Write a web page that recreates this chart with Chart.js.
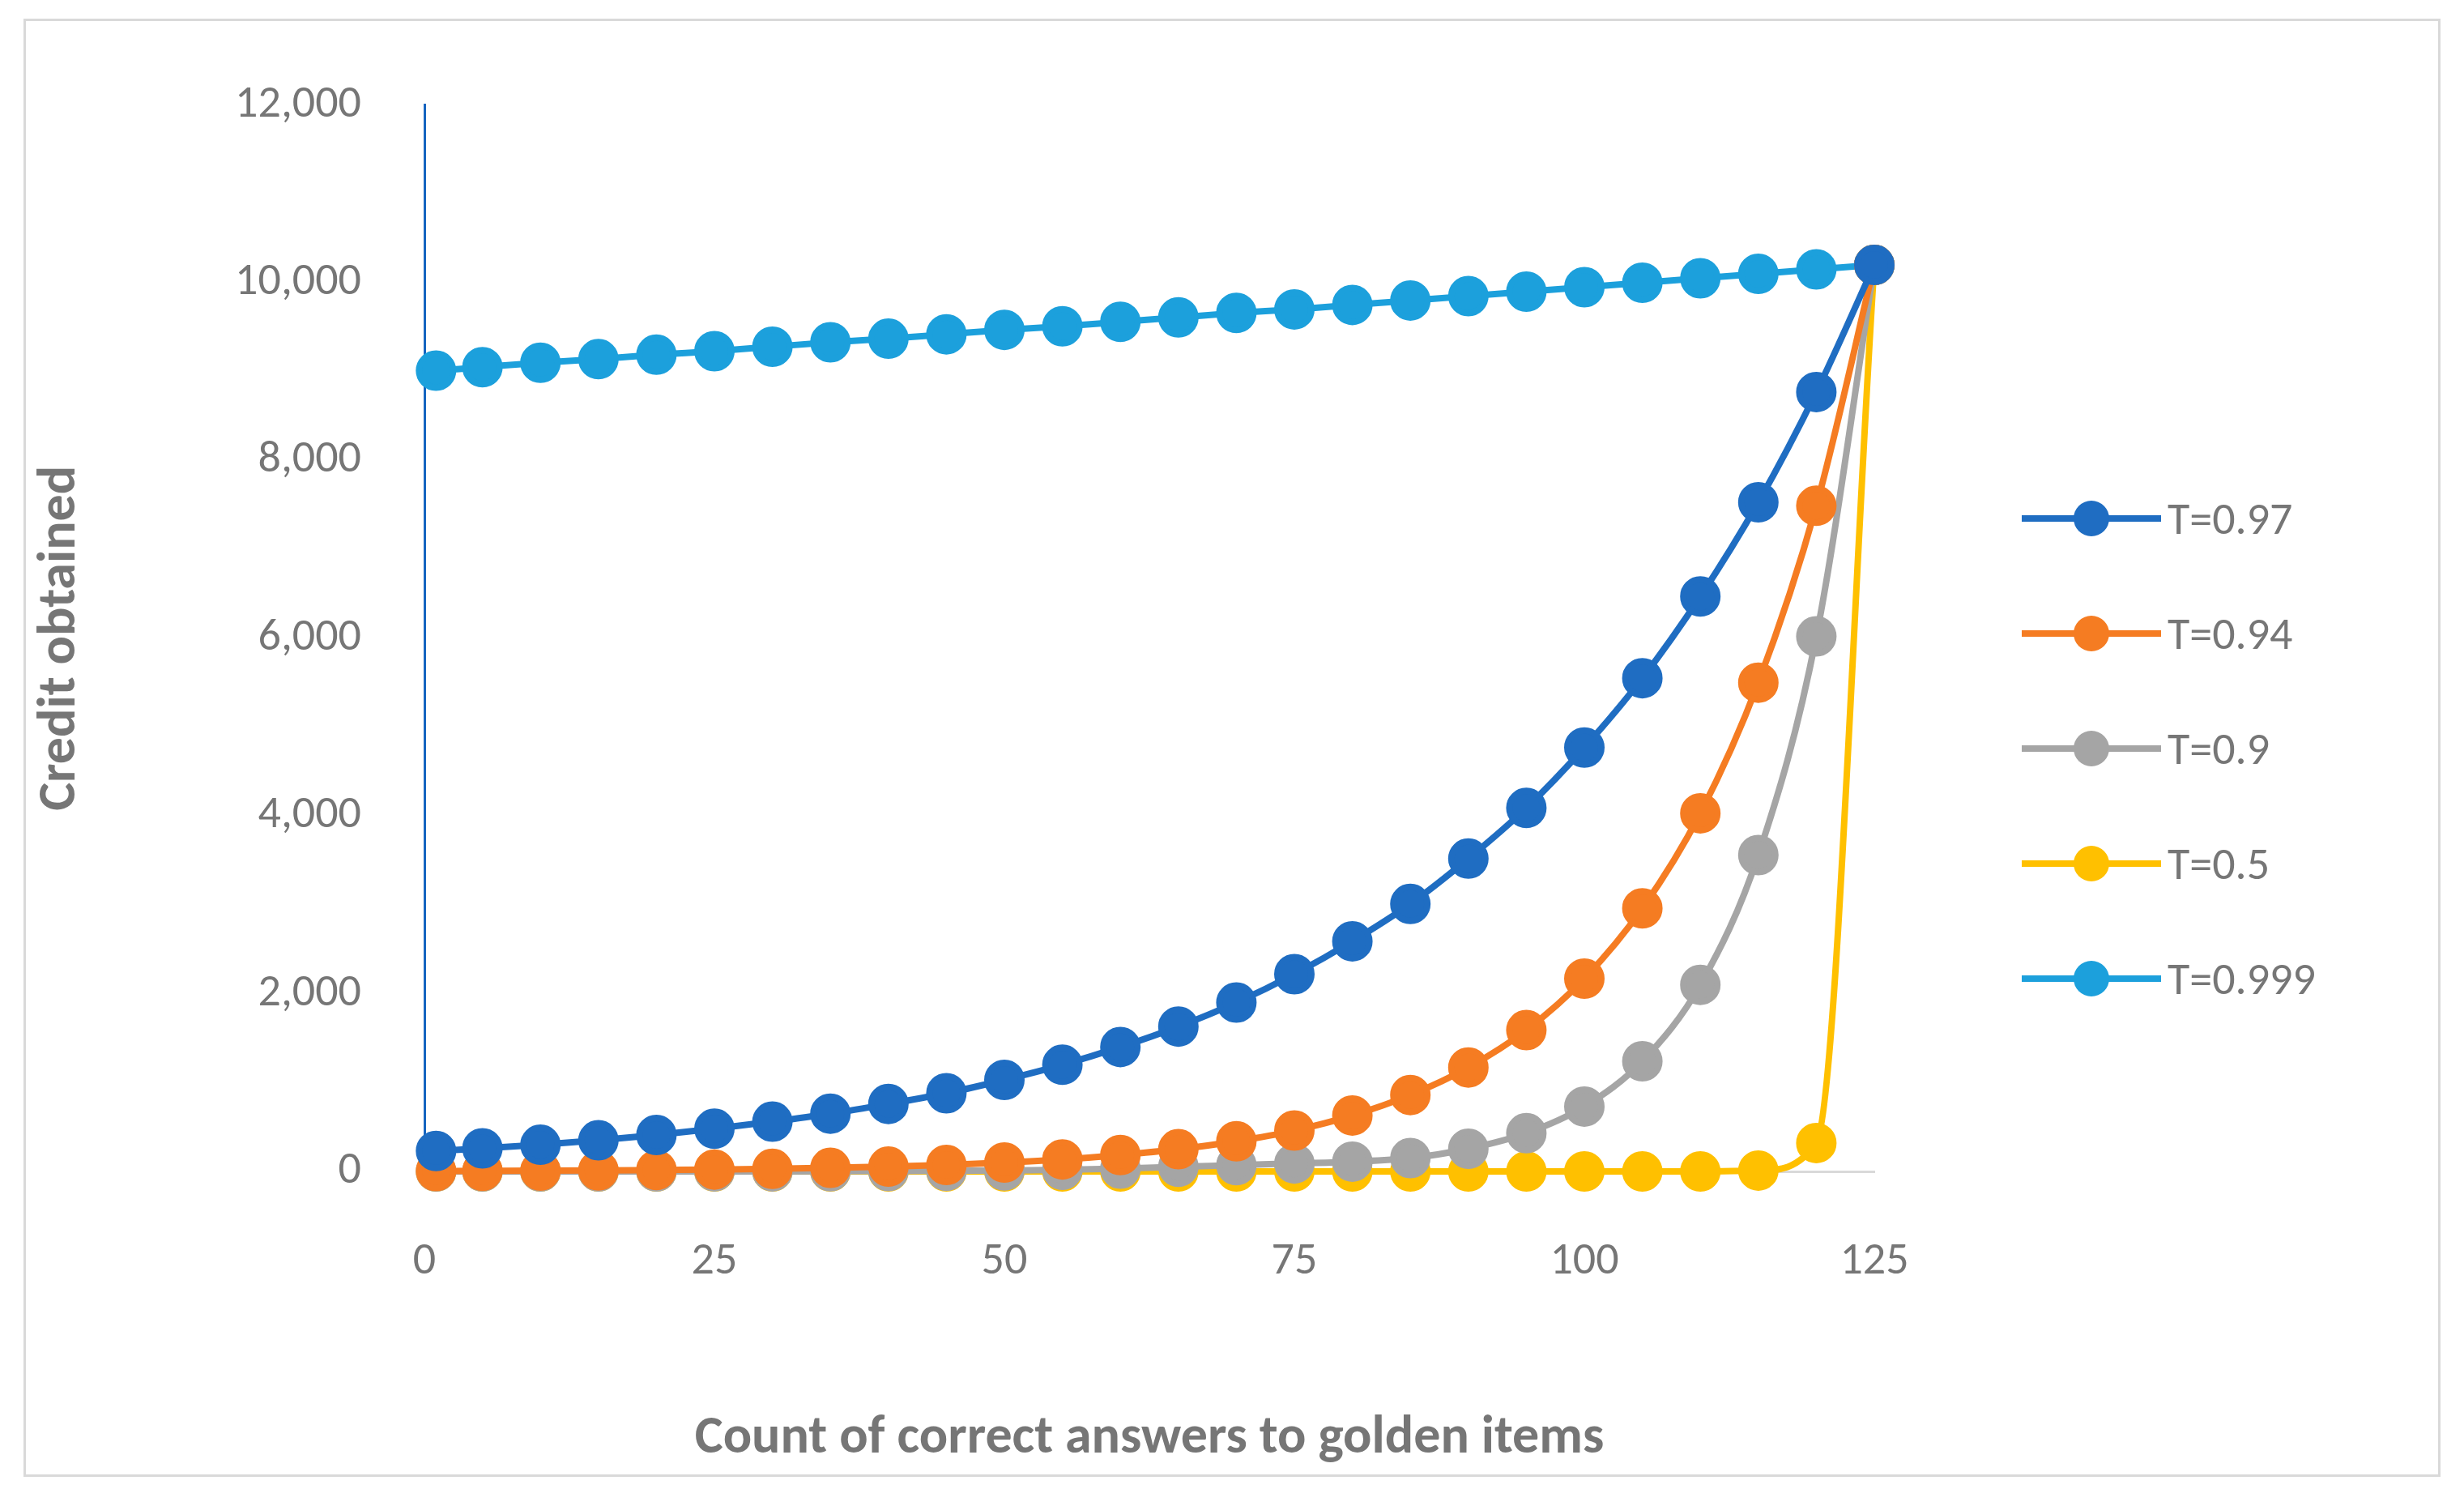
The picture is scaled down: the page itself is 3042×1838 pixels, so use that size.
<!DOCTYPE html>
<html><head><meta charset="utf-8">
<script src="https://cdn.jsdelivr.net/npm/chart.js@4"></script>
<style>
html,body{margin:0;padding:0;background:#fff;width:3042px;height:1838px;overflow:hidden;font-family:Calibri,"Open Sans",sans-serif}
#frame{position:absolute;left:29px;top:23px;width:2984px;height:1800px;border:3px solid #d9d9d9;box-sizing:border-box}
#legend{position:absolute;left:2496px;top:0;}
.li{position:absolute;left:0;display:flex;align-items:center;height:60px;font-size:56px;color:#767676;white-space:nowrap}
.sw{position:relative;width:172px;height:60px;margin-right:8px}
.sw i{position:absolute;left:0;right:0;top:26px;height:8px}
.sw b{position:absolute;left:64px;top:8px;width:44px;height:44px;border-radius:50%}
</style></head>
<body>
<div id="frame"><canvas id="c" width="2978" height="1794"></canvas></div>
<div id="legend"></div>
<script>
// Credit obtained vs count of correct answers
const xs = [1,5,10,15,20,25,30,35,40,45,50,55,60,65,70,75,80,85,90,95,100,105,110,115,120,125];
const t097 = [230,260,300,350,410,480,560,650,760,880,1030,1200,1400,1630,1900,2220,2590,3010,3520,4090,4770,5550,6470,7530,8770,10200];
const t094 = [5,6,8,11,16,21,29,40,54,73,100,135,185,250,340,460,630,860,1170,1590,2170,2960,4030,5500,7490,10200];
const t090 = [0,0,0,0,0,1,1,2,4,6,11,18,31,52,70,90,110,150,255,430,730,1240,2100,3560,6020,10200];
const t050 = [0,0,0,0,0,0,0,0,0,0,0,0,0,0,0,0,0,0,0,0,0,0,0,10,320,10200];
const t0999 = [9010,9050,9100,9140,9190,9230,9280,9330,9370,9420,9470,9510,9560,9610,9660,9700,9750,9800,9850,9900,9950,10000,10050,10100,10150,10200];
const labels = ['T=0.97','T=0.94','T=0.9','T=0.5','T=0.999'];
const colors = ['#1f6dc2','#f57c22','#a5a5a5','#ffc000','#1ca0dc'];
const series = [t097,t094,t090,t050,t0999];
const xTicks = [0,25,50,75,100,125];

const GREY = '#767676';
const datasets = series.map((s,i) => ({
  label: labels[i],
  data: s.map((v,k) => ({x: xs[k], y: v})),
  borderColor: colors[i], backgroundColor: colors[i],
  borderWidth: 8, pointRadius: 21, pointHoverRadius: 21,
  cubicInterpolationMode: 'monotone', clip: false
}));

new Chart(document.getElementById('c'), {
  type: 'line',
  data: { datasets },
  options: {
    responsive: false, animation: false, devicePixelRatio: 1,
    layout: { padding: { left: 0, top: 94, right: 696, bottom: 0 } },
    plugins: { legend: { display: false }, tooltip: { enabled: false } },
    scales: {
      x: {
        type: 'linear', min: 0, max: 125,
        afterBuildTicks: ax => { ax.ticks = xTicks.map(v => ({value: v})); },
        afterFit: ax => { ax.height = 374; },
        grid: { display: false },
        border: { color: '#d9d9d9', width: 3 },
        ticks: { color: GREY, font: { size: 56, family: 'Calibri, "Open Sans", sans-serif' }, padding: 70 },
        title: { display: true, text: 'Count of correct answers to golden items', color: GREY,
                 font: { size: 66, weight: 'bold', family: 'Calibri, "Open Sans", sans-serif' }, padding: { top: 40 } }
      },
      y: {
        min: 0, max: 12000,
        afterFit: ax => { ax.width = 492; },
        grid: { display: false },
        border: { color: '#1565c0', width: 3 },
        ticks: { stepSize: 2000, color: GREY, font: { size: 56, family: 'Calibri, "Open Sans", sans-serif' }, padding: 70 },
        title: { display: true, text: 'Credit obtained', color: GREY,
                 font: { size: 66, weight: 'bold', family: 'Calibri, "Open Sans", sans-serif' }, padding: { bottom: 90 } }
      }
    }
  }
});

const lg = document.getElementById('legend');
labels.forEach((l,i) => {
  const d = document.createElement('div');
  d.className = 'li';
  d.style.top = (610 + i*142) + 'px';
  d.innerHTML = '<div class="sw"><i style="background:'+colors[i]+'"></i><b style="background:'+colors[i]+'"></b></div>' + l;
  lg.appendChild(d);
});
</script>
</body></html>
